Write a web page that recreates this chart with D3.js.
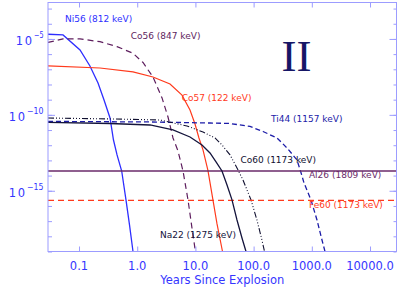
<!DOCTYPE html>
<html><head><meta charset="utf-8">
<script src="https://cdn.jsdelivr.net/npm/d3@7"></script>
<style>html,body{margin:0;padding:0;background:#fff;} svg{display:block;}</style>
</head><body>
<svg id="c" width="402" height="287"></svg>
<script>
// ---- data: [years since explosion, flux] ----
const ni56 = [[0.0293,2.03e-5],[0.0531,1.83e-5],[0.104,1.88e-6],[0.154,1.66e-7],[0.212,1.26e-8],[0.269,9.5e-10],[0.341,6.2e-11],[0.391,2.2e-12],[0.450,2.3e-13],[0.541,2.0e-14],[0.641,2.5e-16],[0.737,5.6e-18],[0.846,1e-19]];
const co56 = [[0.0293,5.86e-6],[0.0531,1.0e-5],[0.104,1.0e-5],[0.229,6.6e-6],[0.450,3.1e-6],[0.846,1.14e-6],[1.257,2.8e-7],[1.866,3.1e-8],[2.67,1.3e-9],[3.38,7.2e-11],[4.12,3.0e-12],[5.02,4.2e-13],[6.12,2.0e-14],[7.46,2.5e-16],[8.73,3.5e-18],[10.0,1e-19]];
const co57 = [[0.0293,1.66e-7],[0.229,1.22e-7],[0.846,6.7e-8],[1.866,3.1e-8],[3.66,1.08e-8],[5.88,2.0e-9],[8.07,2.1e-10],[9.84,2.5e-11],[11.5,3.0e-12],[13.5,4.9e-13],[16.4,2.2e-14],[20.0,2.5e-16],[23.5,6.5e-18],[29.2,1e-19]];
const na22 = [[0.0293,3.15e-11],[0.341,2.7e-11],[1.66,2.15e-11],[4.12,1.01e-11],[8.07,3.5e-12],[12.97,1.04e-12],[17.8,3.1e-13],[22.6,7.9e-14],[28.6,2.0e-14],[34.9,2.4e-15],[42.5,2.5e-16],[51.8,1.19e-17],[63.1,7.7e-19],[74.0,1e-19]];
const co60 = [[0.0293,6.2e-11],[0.341,5.4e-11],[2.46,4.6e-11],[7.17,1.85e-11],[13.5,7.4e-12],[21.7,3.0e-12],[28.6,1.04e-12],[39.3,2.3e-13],[51.8,3.2e-14],[65.7,5.1e-15],[90.2,2.5e-16],[114,1.19e-17],[139,5.7e-19],[154,1e-19]];
const ti44 = [[0.0293,3.7e-11],[1.66,3.4e-11],[17.8,2.9e-11],[39.3,2.7e-11],[86.6,1.72e-11],[145,8.0e-12],[252,3.0e-12],[375,6.6e-13],[556,1.07e-13],[639,2.0e-14],[734,3.3e-15],[968,2.5e-16],[1227,1.19e-17],[1496,5.7e-19],[1685,1e-19]];
const al26 = [[0.0293,2.0e-14],[28500,2.0e-14]];
const fe60 = [[0.0293,2.36e-16],[28500,2.36e-16]];

const seriesNames = ["Ni56 (812 keV)","Co56 (847 keV)","Co57 (122 keV)","Ti44 (1157 keV)","Co60 (1173 keV)","Al26 (1809 keV)","Fe60 (1173 keV)","Na22 (1275 keV)"];
const xTickValues = [0.1,1,10,100,1000,10000];
const xTickLabels = ["0.1","1.0","10.0","100.0","1000.0","10000.0"];
const yMajorExponents = [-5,-10,-15];
const xTitle = "Years Since Explosion";
const panelTag = "II";

// ---- layout / style ----
const svg = d3.select("#c");
const L = 48, R = 396.5, T = 2.5, B = 251.5;
const x = d3.scaleLog().domain([10**-1.533, 10**4.455]).range([L, R]);
const y = d3.scaleLog().domain([1e-19, 10**-2.6]).range([B, T]);
const axisCol = "#9c9cff", labCol = "#3535ff";

svg.append("defs").append("clipPath").attr("id","clip")
  .append("rect").attr("x",L).attr("y",T).attr("width",R-L).attr("height",B-T);

const line = d3.line().x(d=>x(d[0])).y(d=>y(d[1]));
const styles = [
  {d:ni56, c:"#2e2eff", w:1.3, dash:null},
  {d:co56, c:"#5e1e5e", w:1.2, dash:"6,4"},
  {d:co57, c:"#ff3a1c", w:1.2, dash:null},
  {d:ti44, c:"#1c1ca8", w:1.3, dash:"5,3"},
  {d:co60, c:"#101030", w:1.1, dash:"6,2,1,2,1,2,1,2"},
  {d:al26, c:"#6a2a6a", w:1.3, dash:null},
  {d:fe60, c:"#ff3a1c", w:1.2, dash:"6,4"},
  {d:na22, c:"#14143c", w:1.3, dash:null}
];
const g = svg.append("g").attr("clip-path","url(#clip)");
styles.forEach(s=>{
  g.append("path").datum(s.d).attr("d",line).attr("fill","none")
   .attr("stroke",s.c).attr("stroke-width",s.w)
   .attr("stroke-dasharray",s.dash);
});

// series labels (anchored in data coordinates)
const labelPos = [[0.0574,1.37e-4],[0.773,1e-5],[5.81,7.6e-10],[199,3.4e-11],[59.6,6.8e-14],[893,7.0e-15],[893,7.0e-17],[2.46,7.2e-19]];
const labelCol = ["#2e2eff","#5e1e5e","#ff3a1c","#1c1ca8","#101030","#6a2a6a","#ff3a1c","#14143c"];
seriesNames.forEach((n,i)=>{
  svg.append("text").attr("x",x(labelPos[i][0])).attr("y",y(labelPos[i][1]))
    .attr("fill",labelCol[i]).attr("font-family","DejaVu Sans").attr("font-size",9)
    .text(n);
});

// panel tag
svg.append("text").attr("x",296.5).attr("y",70.5).attr("text-anchor","middle")
  .attr("font-family","Liberation Serif").attr("font-size",45).attr("fill","#161666").text(panelTag);

// axes
const decades = d3.range(-19,-2).map(e=>10**e);
function tickAxis(gen, vals, size){ return gen.tickValues(vals).tickSize(size).tickFormat(""); }
const ax = svg.append("g");
ax.append("g").attr("transform",`translate(0,${B})`).call(tickAxis(d3.axisBottom(x), xTickValues, -5));
ax.append("g").attr("transform",`translate(0,${T})`).call(tickAxis(d3.axisTop(x), xTickValues, -5));
ax.append("g").attr("transform",`translate(${L},0)`).call(tickAxis(d3.axisLeft(y), decades, -4));
ax.append("g").attr("transform",`translate(${L},0)`).call(tickAxis(d3.axisLeft(y), yMajorExponents.map(e=>10**e), -7));
ax.append("g").attr("transform",`translate(${R},0)`).call(tickAxis(d3.axisRight(y), decades, -3));
ax.append("g").attr("transform",`translate(${R},0)`).call(tickAxis(d3.axisRight(y), yMajorExponents.map(e=>10**e), -7));
ax.selectAll(".domain").remove();
ax.selectAll("line").attr("stroke",axisCol).attr("stroke-width",1);
svg.append("rect").attr("x",L).attr("y",T).attr("width",R-L).attr("height",B-T)
  .attr("fill","none").attr("stroke",axisCol).attr("stroke-width",1);

// x tick labels
xTickValues.forEach((v,i)=>{
  svg.append("text").attr("x",x(v)).attr("y",270).attr("text-anchor","middle")
    .attr("font-family","DejaVu Sans").attr("font-size",11.5).attr("fill",labCol).text(xTickLabels[i]);
});
svg.append("text").attr("x",(L+R)/2).attr("y",283.5).attr("text-anchor","middle")
  .attr("font-family","DejaVu Sans").attr("font-size",11.5).attr("fill",labCol).text(xTitle);

// y tick labels 10^e
yMajorExponents.forEach(e=>{
  const ty = y(10**e);
  const sup = "\u2212" + Math.abs(e);
  const supW = sup.length===2 ? 9.5 : 16.5;
  const supX = 43.5 - supW;
  svg.append("text").attr("x",supX).attr("y",ty-1).attr("font-family","DejaVu Sans")
    .attr("font-size",8.5).attr("fill",labCol).attr("textLength",supW).attr("lengthAdjust","spacingAndGlyphs").text(sup);
  svg.append("text").attr("x",supX-0.5).attr("y",ty+6).attr("text-anchor","end").attr("font-family","DejaVu Sans")
    .attr("font-size",11.5).attr("fill",labCol).attr("letter-spacing",1.5).text("10");
});
</script>
</body></html>
